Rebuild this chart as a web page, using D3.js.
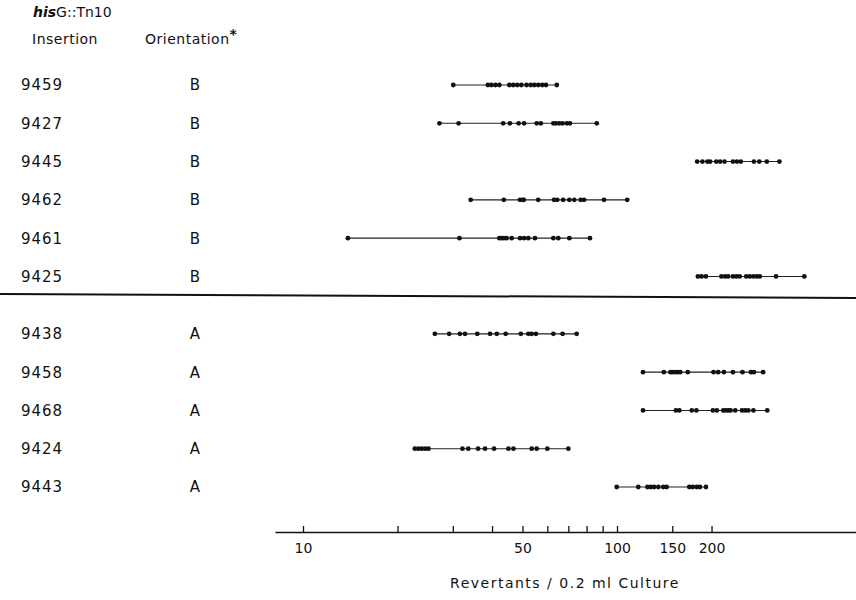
<!DOCTYPE html>
<html>
<head>
<meta charset="utf-8">
<script src="https://cdn.jsdelivr.net/npm/d3@7"></script>
<style>
  body { margin: 0; background: #fff; }
  svg { display: block; }
  text { font-family: "DejaVu Sans", sans-serif; fill: #111; }
</style>
</head>
<body>
<div id="chart"></div>
<script>
// rows, top to bottom
const insertions = ["9459", "9427", "9445", "9462", "9461", "9425",
                    "9438", "9458", "9468", "9424", "9443"];
const orientations = ["B", "B", "B", "B", "B", "B", "A", "A", "A", "A", "A"];

// revertants per 0.2 ml culture, one array per insertion
const r9459 = [30.1, 38.8, 39.8, 41.0, 42.2, 45.4, 46.7, 48.1, 49.6, 51.5, 53.1, 54.5, 56.1, 57.8, 59.4, 64.3];
const r9427 = [27.2, 31.3, 43.4, 45.6, 48.6, 50.6, 55.5, 57.2, 62.7, 63.9, 65.5, 67.1, 69.2, 70.8, 86.2];
const r9445 = [180, 187, 194, 198, 207, 213, 220, 234, 241, 248, 273, 284, 300, 329];
const r9462 = [34.2, 43.6, 49.1, 50.1, 50.5, 56.1, 63.0, 64.5, 67.4, 70.5, 73.1, 76.6, 78.5, 90.9, 107.8];
const r9461 = [13.9, 31.5, 42.2, 42.9, 43.6, 44.5, 46.2, 49.1, 50.6, 52.2, 54.8, 62.7, 65.0, 70.5, 82.0];
const r9425 = [181, 186, 192, 215, 221, 226, 234, 240, 246, 258, 265, 272, 279, 285, 321, 395];
const r9438 = [26.3, 29.2, 31.6, 32.8, 35.9, 39.4, 41.4, 44.2, 49.4, 52.2, 53.5, 55.2, 62.7, 67.1, 74.4];
const r9458 = [121, 141, 148, 150, 153, 156, 159, 168, 203, 210, 219, 234, 251, 267, 273, 292];
const r9468 = [121, 154, 158, 173, 179, 202, 208, 218, 222, 226, 230, 238, 250, 256, 262, 272, 301];
const r9424 = [22.7, 23.3, 23.9, 24.5, 25.1, 32.2, 33.6, 36.1, 38.0, 40.6, 45.1, 46.8, 53.5, 55.5, 60.0, 70.0];
const r9443 = [99.8, 116.9, 125, 128, 131.2, 135.4, 140.4, 143.9, 169.9, 174.2, 179.4, 183.7, 192];

const counts = [r9459, r9427, r9445, r9462, r9461, r9425, r9438, r9458, r9468, r9424, r9443];

const tickValues = [10, 20, 30, 40, 50, 60, 70, 80, 90, 100, 150, 200];
const tickLabels = [10, 50, 100, 150, 200];

const width = 856, height = 600;

const svg = d3.select("#chart").append("svg")
  .attr("width", width)
  .attr("height", height);

// log scale: 10 at x=303, one decade = 314 px
const x = d3.scaleLog().domain([10, 100]).range([303, 617]);
x.domain([x.invert(275), x.invert(856)]).range([275, 856]);

// row slots, the A group sits a bit lower after the divider
const slot = i => i < 6 ? i : i + 0.5;
const y = d3.scaleLinear().domain([0, 10.5]).range([85, 487]);

// header
const head = svg.append("text").attr("x", 33).attr("y", 17).style("font-size", "14px");
head.append("tspan").text("his").style("font-style", "italic").style("font-weight", "bold");
head.append("tspan").text("G::Tn10");

svg.append("text").attr("x", 65).attr("y", 44).attr("text-anchor", "middle")
  .style("font-size", "14px").style("letter-spacing", "0.5px").text("Insertion");
const ori = svg.append("text").attr("x", 145).attr("y", 44).style("font-size", "14px")
  .style("letter-spacing", "0.5px");
ori.append("tspan").text("Orientation");
ori.append("tspan").text("*").attr("dy", -5).style("font-weight", "bold");

// row labels
const rows = svg.append("g").selectAll("g")
  .data(insertions)
  .join("g")
  .attr("transform", (d, i) => `translate(0,${y(slot(i))})`);

rows.append("text")
  .attr("x", 42).attr("dy", "0.36em").attr("text-anchor", "middle")
  .style("font-size", "15px").style("letter-spacing", "1px")
  .text(d => d);

rows.append("text")
  .attr("x", 195).attr("dy", "0.36em").attr("text-anchor", "middle")
  .style("font-size", "15px")
  .text((d, i) => orientations[i]);

// range line + dots
rows.append("line")
  .attr("x1", (d, i) => x(d3.min(counts[i])))
  .attr("x2", (d, i) => x(d3.max(counts[i])))
  .attr("stroke", "#222")
  .attr("stroke-width", 1.1);

rows.selectAll("circle")
  .data((d, i) => counts[i])
  .join("circle")
  .attr("cx", d => x(d))
  .attr("r", 2.4)
  .attr("fill", "#111");

// divider between orientation groups
svg.append("line")
  .attr("x1", 0).attr("y1", 294)
  .attr("x2", width).attr("y2", 298)
  .attr("stroke", "#111")
  .attr("stroke-width", 2);

// axis
const axis = d3.axisBottom(x)
  .tickValues(tickValues)
  .tickFormat(d => tickLabels.includes(d) ? d : "")
  .tickSizeInner(-6)
  .tickSizeOuter(0)
  .tickPadding(11);

const gx = svg.append("g")
  .attr("transform", "translate(0,532)")
  .call(axis);

gx.select(".domain").attr("stroke", "#111").attr("stroke-width", 1.6);
gx.selectAll(".tick line").attr("stroke", "#111").attr("stroke-width", 1.3);
gx.selectAll(".tick text")
  .style("font-family", "'DejaVu Sans', sans-serif")
  .style("font-size", "14px")
  .attr("fill", "#111");

svg.append("text")
  .attr("x", 565).attr("y", 588)
  .attr("text-anchor", "middle")
  .style("font-size", "14px")
  .style("letter-spacing", "1.5px")
  .text("Revertants / 0.2 ml Culture");
</script>
</body>
</html>
